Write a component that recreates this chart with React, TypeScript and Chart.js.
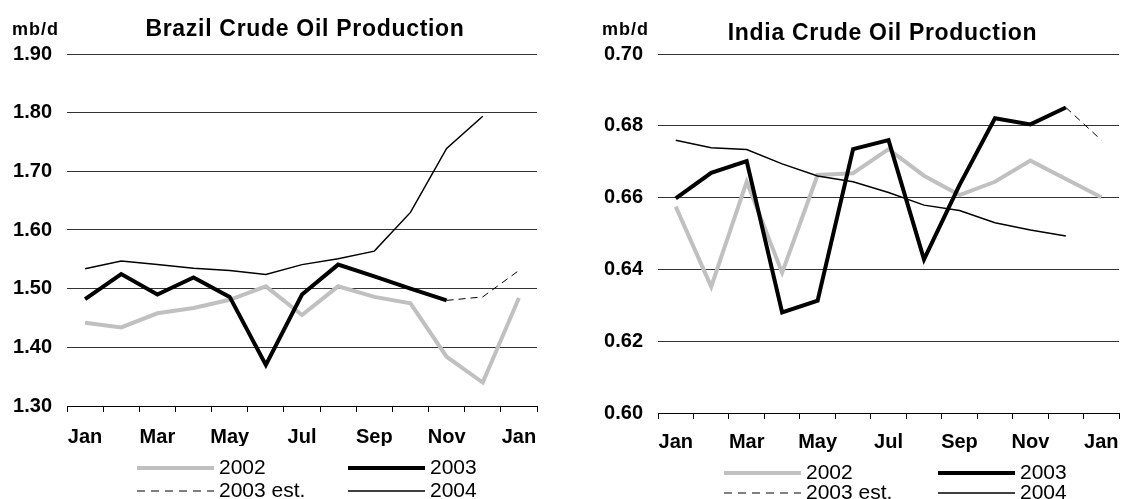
import React, { useEffect, useRef } from "react";
import { Chart, registerables } from "chart.js";

Chart.register(...registerables);

// ---------- data ----------
const months = ["Jan", "Feb", "Mar", "Apr", "May", "Jun", "Jul", "Aug", "Sep", "Oct", "Nov", "Dec", "Jan"];
const seriesLabels = ["2002", "2003", "2003 est.", "2004"];
const unitLabel = "mb/d";

const brazilTitle = "Brazil Crude Oil Production";
const brazil2002 = [1.442, 1.434, 1.458, 1.467, 1.481, 1.504, 1.455, 1.504, 1.486, 1.475, 1.384, 1.340, 1.484];
const brazil2003 = [1.482, 1.525, 1.490, 1.519, 1.486, 1.370, 1.490, 1.541, 1.521, 1.500, 1.480, null, null];
const brazil2003Est = [null, null, null, null, null, null, null, null, null, null, 1.480, 1.486, 1.531];
const brazil2004 = [1.534, 1.547, 1.541, 1.535, 1.531, 1.524, 1.541, 1.551, 1.564, 1.630, 1.739, 1.794, null];
const brazilMin = 1.3;
const brazilMax = 1.9;
const brazilStep = 0.1;

const indiaTitle = "India Crude Oil Production";
const india2002 = [0.6575, 0.6352, 0.6644, 0.6391, 0.6663, 0.6668, 0.6735, 0.6661, 0.6607, 0.6644, 0.6703, 0.6652, 0.6601];
const india2003 = [0.6598, 0.6669, 0.6702, 0.6280, 0.6313, 0.6735, 0.6760, 0.6428, 0.6635, 0.6821, 0.6804, 0.6851, null];
const india2003Est = [null, null, null, null, null, null, null, null, null, null, null, 0.6851, 0.6760];
const india2004 = [0.6760, 0.6739, 0.6734, 0.6694, 0.6660, 0.6644, 0.6614, 0.6579, 0.6564, 0.6530, 0.6510, 0.6493, null];
const indiaMin = 0.6;
const indiaMax = 0.7;
const indiaStep = 0.02;

// ---------- styling ----------
const FAMILY = "'Liberation Sans', Arial, Helvetica, sans-serif";

const gridLegendPlugin = {
  id: "gridLegend",
  afterDraw(chart: any, _args: any, opts: any) {
    if (!opts || !opts.cols) return;
    const ctx = chart.ctx;
    ctx.save();
    chart.data.datasets.forEach((d: any, i: number) => {
      const x = opts.cols[i % 2];
      const y = opts.rows[Math.floor(i / 2)];
      ctx.beginPath();
      ctx.strokeStyle = d.borderColor;
      ctx.lineWidth = d.borderWidth;
      ctx.lineCap = "butt";
      ctx.setLineDash(d.borderDash ? opts.dash : []);
      ctx.moveTo(x, y);
      ctx.lineTo(x + opts.lineLength, y);
      ctx.stroke();
      ctx.setLineDash([]);
      ctx.fillStyle = "#000";
      ctx.font = opts.font;
      ctx.textBaseline = "middle";
      ctx.textAlign = "left";
      ctx.fillText(d.label, x + opts.lineLength + opts.gap, y);
    });
    ctx.restore();
  },
};

const unitLabelPlugin = {
  id: "unitLabel",
  afterDraw(chart: any, _args: any, opts: any) {
    if (!opts || !opts.text) return;
    const ctx = chart.ctx;
    ctx.save();
    ctx.fillStyle = "#000";
    ctx.font = opts.font;
    (ctx as any).letterSpacing = opts.spacing || "0px";
    ctx.textBaseline = "alphabetic";
    ctx.textAlign = "left";
    ctx.fillText(opts.text, opts.x, opts.y);
    ctx.restore();
  },
};

// slightly widens the title's letter spacing and nudges it horizontally
const titleStylePlugin = {
  id: "titleStyle",
  afterLayout(chart: any, _args: any, opts: any) {
    const tb = chart.titleBlock;
    if (!tb || tb.__wrapped) return;
    const orig = tb.draw;
    tb.draw = function (...args: any[]) {
      const ctx = chart.ctx;
      ctx.save();
      (ctx as any).letterSpacing = opts.spacing || "0px";
      ctx.translate(opts.shift || 0, 0);
      orig.apply(this, args);
      ctx.restore();
    };
    tb.__wrapped = true;
  },
};

type PanelProps = {
  title: string;
  s2002: (number | null)[];
  s2003: (number | null)[];
  sEst: (number | null)[];
  s2004: (number | null)[];
  min: number;
  max: number;
  step: number;
  width: number;
  height: number;
  left: number;
  yAxisWidth: number;
  padRight: number;
  padBottom: number;
  titlePad: { top: number; bottom: number };
  titleShift: number;
  xLabelPad: number;
  legendCols: number[];
  legendRows: number[];
  unitX: number;
};

function Panel(p: PanelProps) {
  const ref = useRef<HTMLCanvasElement | null>(null);
  useEffect(() => {
    if (!ref.current) return;
    const tickFont = { family: FAMILY, size: 20, weight: "bold" as const };
    const chart = new Chart(ref.current, {
      type: "line",
      data: {
        labels: months,
        datasets: [
          { label: seriesLabels[0], data: p.s2002, borderColor: "#C0C0C0", backgroundColor: "#C0C0C0", borderWidth: 4, pointRadius: 0, order: 4 },
          { label: seriesLabels[1], data: p.s2003, borderColor: "#000000", backgroundColor: "#000000", borderWidth: 4, pointRadius: 0, order: 2 },
          { label: seriesLabels[2], data: p.sEst, borderColor: "#000000", backgroundColor: "#000000", borderWidth: 1, borderDash: [7, 5], pointRadius: 0, order: 3 },
          { label: seriesLabels[3], data: p.s2004, borderColor: "#000000", backgroundColor: "#000000", borderWidth: 1.5, pointRadius: 0, order: 1 },
        ],
      },
      options: {
        responsive: false,
        animation: false,
        devicePixelRatio: 1,
        layout: { padding: { left: 0, right: p.padRight, top: 0, bottom: p.padBottom } },
        elements: { line: { tension: 0, borderCapStyle: "butt", borderJoinStyle: "miter" } },
        scales: {
          x: {
            offset: true,
            grid: { offset: true, drawOnChartArea: false, drawTicks: true, tickLength: 6, color: "#000", lineWidth: 1 },
            border: { display: true, color: "#000", width: 1 },
            ticks: {
              autoSkip: false,
              maxRotation: 0,
              minRotation: 0,
              padding: p.xLabelPad,
              color: "#000",
              font: tickFont,
              callback: (_v: any, i: number) => (i % 2 === 0 ? months[i] : ""),
            },
            afterFit: (s: any) => {
              s.height = 40;
            },
          },
          y: {
            min: p.min,
            max: p.max,
            ticks: {
              stepSize: p.step,
              padding: 15,
              color: "#000",
              font: tickFont,
              callback: (v: any) => Number(v).toFixed(2),
            },
            grid: { color: "#333", lineWidth: 1, drawTicks: false },
            border: { display: false },
            afterFit: (s: any) => {
              s.width = p.yAxisWidth;
            },
          },
        },
        plugins: {
          legend: { display: false },
          tooltip: { enabled: false },
          title: {
            display: true,
            text: p.title,
            fullSize: false,
            color: "#000",
            font: { family: FAMILY, size: 23, weight: "bold" },
            padding: p.titlePad,
          },
          titleStyle: { spacing: "0.7px", shift: p.titleShift },
          gridLegend: {
            cols: p.legendCols,
            rows: p.legendRows,
            lineLength: 77,
            gap: 5,
            dash: [8, 6],
            font: `21px ${FAMILY}`,
          },
          unitLabel: {
            text: unitLabel,
            x: p.unitX,
            y: 35,
            spacing: "1px",
            font: `bold 18px ${FAMILY}`,
          },
        } as any,
      },
      plugins: [titleStylePlugin, gridLegendPlugin, unitLabelPlugin],
    });
    return () => chart.destroy();
  }, []);
  return (
    <canvas
      ref={ref}
      width={p.width}
      height={p.height}
      style={{ position: "absolute", left: p.left, top: 0, width: p.width, height: p.height }}
    />
  );
}

export default function App() {
  return (
    <div style={{ position: "absolute", left: 0, top: 0, width: 1130, height: 499, background: "#fff", overflow: "hidden" }}>
      <Panel
        title={brazilTitle}
        s2002={brazil2002}
        s2003={brazil2003}
        sEst={brazil2003Est}
        s2004={brazil2004}
        min={brazilMin}
        max={brazilMax}
        step={brazilStep}
        width={560}
        height={499}
        left={0}
        yAxisWidth={67}
        padRight={23}
        padBottom={53}
        titlePad={{ top: 15.4, bottom: 11 }}
        titleShift={3}
        xLabelPad={13}
        legendCols={[137, 348]}
        legendRows={[468, 491]}
        unitX={12}
      />
      <Panel
        title={indiaTitle}
        s2002={india2002}
        s2003={india2003}
        sEst={india2003Est}
        s2004={india2004}
        min={indiaMin}
        max={indiaMax}
        step={indiaStep}
        width={570}
        height={499}
        left={560}
        yAxisWidth={98}
        padRight={2}
        padBottom={46}
        titlePad={{ top: 19.5, bottom: 6.9 }}
        titleShift={-6}
        xLabelPad={11}
        legendCols={[164, 378]}
        legendRows={[473, 493]}
        unitX={42}
      />
    </div>
  );
}
